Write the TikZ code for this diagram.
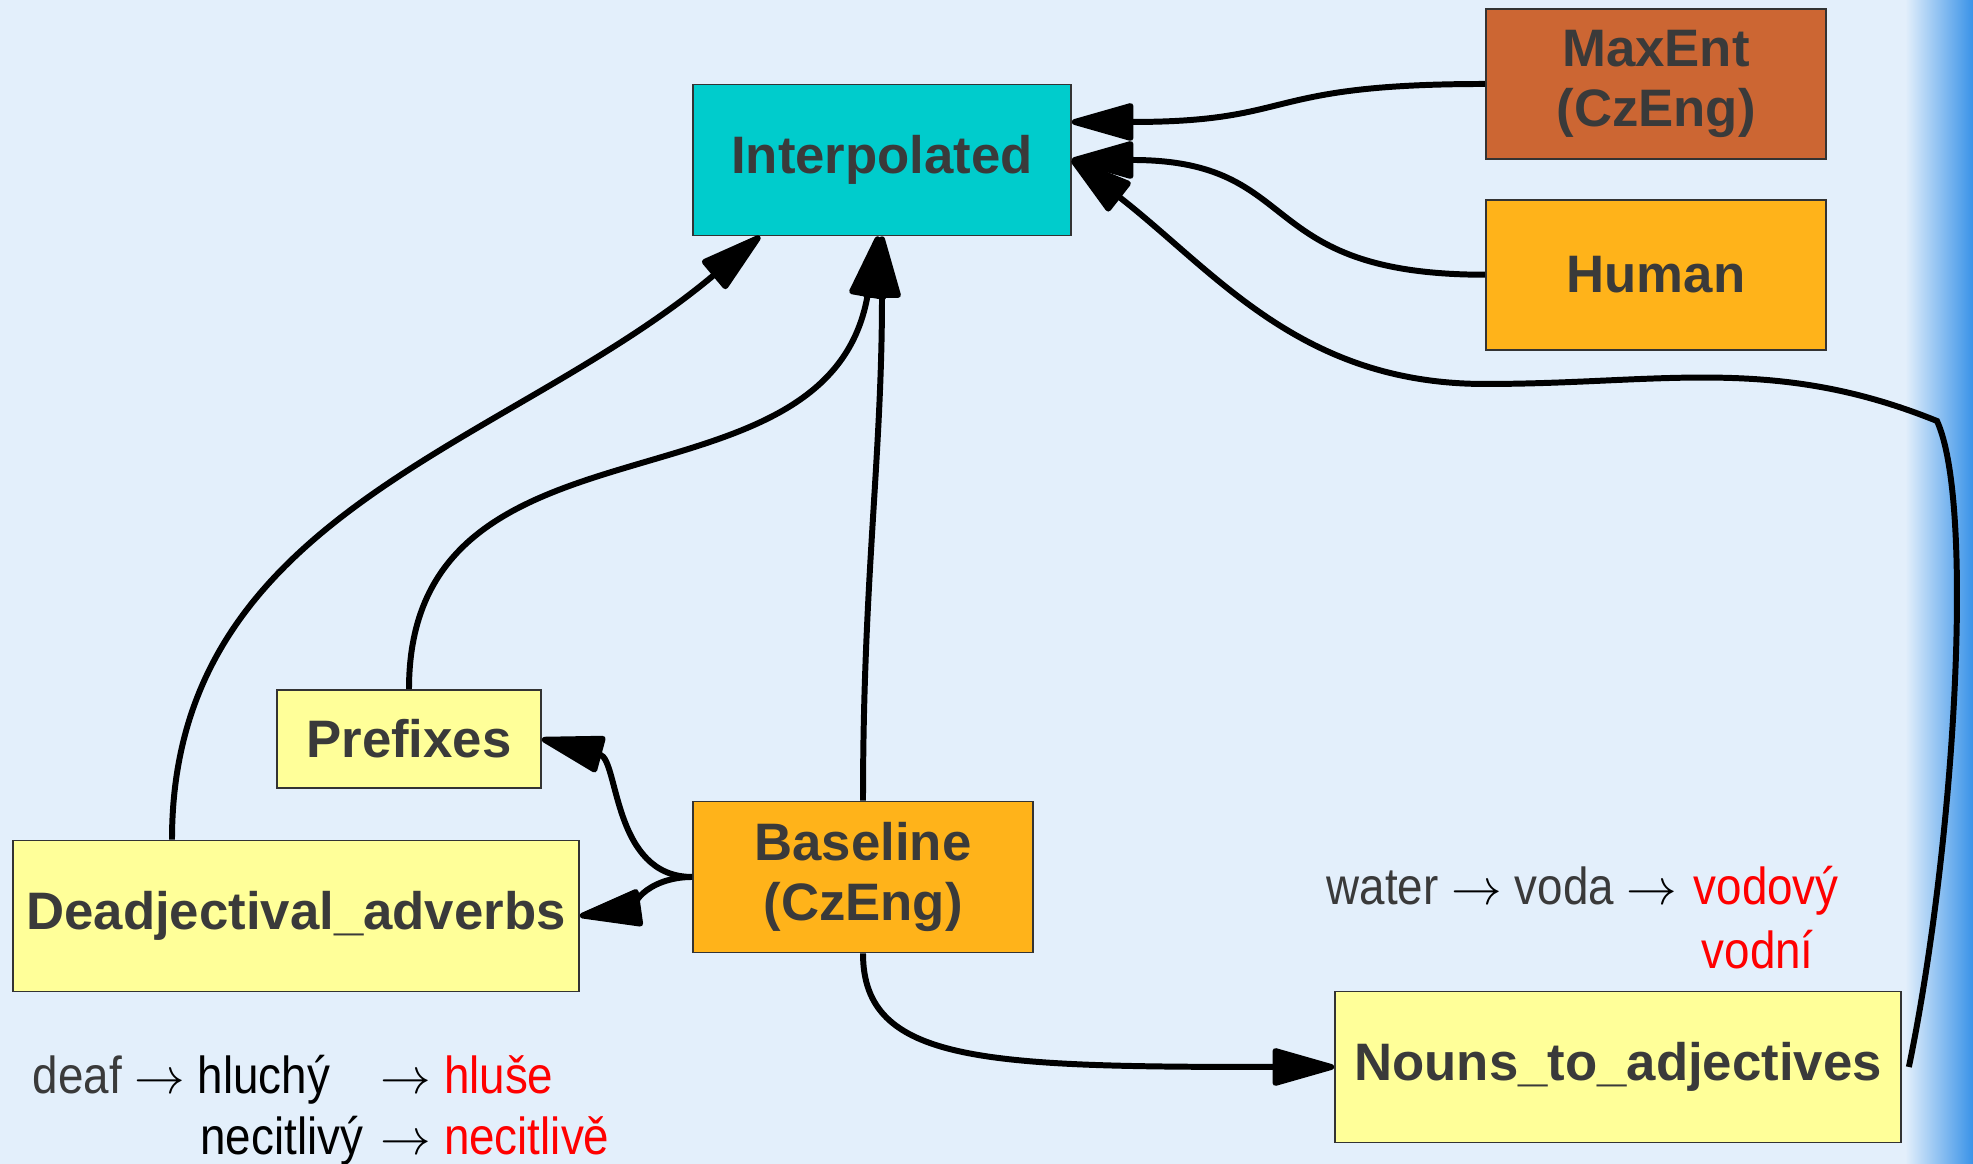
\documentclass[tikz,border=0pt]{standalone}
\usepackage{fontspec}
\setmainfont{Liberation Sans}
\newfontfamily\narrowsans[FakeStretch=0.88]{Liberation Sans}
\usetikzlibrary{arrows.meta,positioning}
\definecolor{slidebg}{HTML}{E3EFFB}
\definecolor{edgeblue}{HTML}{3A93E8}
\definecolor{boxtext}{HTML}{3A3A3A}
\definecolor{cyanbox}{HTML}{00CCCC}
\definecolor{rustbox}{HTML}{CC6633}
\definecolor{ambox}{HTML}{FFB31A}
\definecolor{paleyellow}{HTML}{FFFF99}
\newcommand{\blackarrow}{\textcolor{black}{$\rightarrow$}}

\begin{document}
\begin{tikzpicture}[>=Latex,node distance=0.39cm,
    box/.style={draw=black!80,line width=0.5pt,inner sep=0pt,align=center,text=boxtext,font=\fontsize{15}{17}\selectfont\bfseries},
    note/.style={inner sep=0pt,text=boxtext,font=\fontsize{14.8}{17}\selectfont\narrowsans},
    link/.style={line width=1.7pt,-{Triangle[length=7mm,width=3.8mm,round]}}]
    \fill[slidebg] (0,0) rectangle (19.73,11.64);
    \shade[left color=slidebg,right color=edgeblue] (19.05,0) rectangle (19.73,11.64);
    \useasboundingbox (0,0) rectangle (19.73,11.64);
    % systems
    \node[box,fill=cyanbox,minimum width=3.78cm,minimum height=1.51cm] (interp) at (8.82,10.04) {Interpolated};
    \node[box,fill=rustbox,minimum width=3.4cm,minimum height=1.5cm] (maxent) at (16.56,10.80) {MaxEnt\\(CzEng)};
    \node[box,fill=ambox,minimum width=3.4cm,minimum height=1.5cm,below=of maxent] (human) {Human};
    \node[box,fill=paleyellow,minimum width=2.64cm,minimum height=0.98cm] (prefixes) at (4.09,4.25) {Prefixes};
    \node[box,fill=ambox,minimum width=3.4cm,minimum height=1.51cm] (baseline) at (8.63,2.87) {Baseline\\(CzEng)};
    \node[box,fill=paleyellow,minimum width=5.66cm,minimum height=1.51cm] (deadj) at (2.96,2.48) {Deadjectival\_adverbs};
    \node[box,fill=paleyellow,minimum width=5.66cm,minimum height=1.51cm] (nouns) at (16.18,0.97) {Nouns\_to\_adjectives};
    % examples
    \node[note,anchor=base west] (water) at (13.26,2.59) {water \blackarrow{} voda \blackarrow};
    \node[note,anchor=base west,text=red] (vodovy) at (16.93,2.59) {vodový};
    \node[note,anchor=base west,text=red] (vodni) at (17.01,1.95) {vodní};
    \node[note,anchor=base west] (deaf) at (0.32,0.70) {deaf \blackarrow{} \textcolor{black}{hluchý}};
    \node[note,anchor=base west] (hluse) at (3.80,0.70) {\blackarrow{} \textcolor{red}{hluše}};
    \node[note,anchor=base east,text=black] (necit) at (3.64,0.09) {necitlivý};
    \node[note,anchor=base west] (necitred) at (3.80,0.09) {\blackarrow{} \textcolor{red}{necitlivě}};
    % links
    \coordinate (nbend) at (19.37,7.43);
    \coordinate (nflat) at (14.85,7.80);
    \draw[link] (maxent.west) to[out=180,in=0,looseness=1.4] ([yshift=0.38cm]interp.east);
    \draw[link] (human.west) to[out=180,in=0,looseness=1.4] (interp.east);
    \draw[link] ([xshift=0.07cm]nouns.east) .. controls (19.55,3.2) and (19.75,6.6) .. (nbend) to[out=158,in=0] (nflat) to[out=180,in=-38] (interp.east);
    \draw[link] (baseline.north) to[out=90,in=-90] (interp.south);
    \draw[link] (prefixes.north) to[out=90,in=-100,looseness=1.15] ([xshift=-0.04cm]interp.south);
    \draw[link] ([xshift=-1.24cm]deadj.north) to[out=90,in=-140] ([xshift=-1.22cm]interp.south);
    \draw[link] (baseline.west) to[out=180,in=-15] (prefixes.east);
    \draw[link] (baseline.west) to[out=180,in=8] (deadj.east);
    \draw[link] (baseline.south) .. controls +(0,-1.1) and +(-3.5,0) .. (nouns.west);
\end{tikzpicture}
\end{document}
